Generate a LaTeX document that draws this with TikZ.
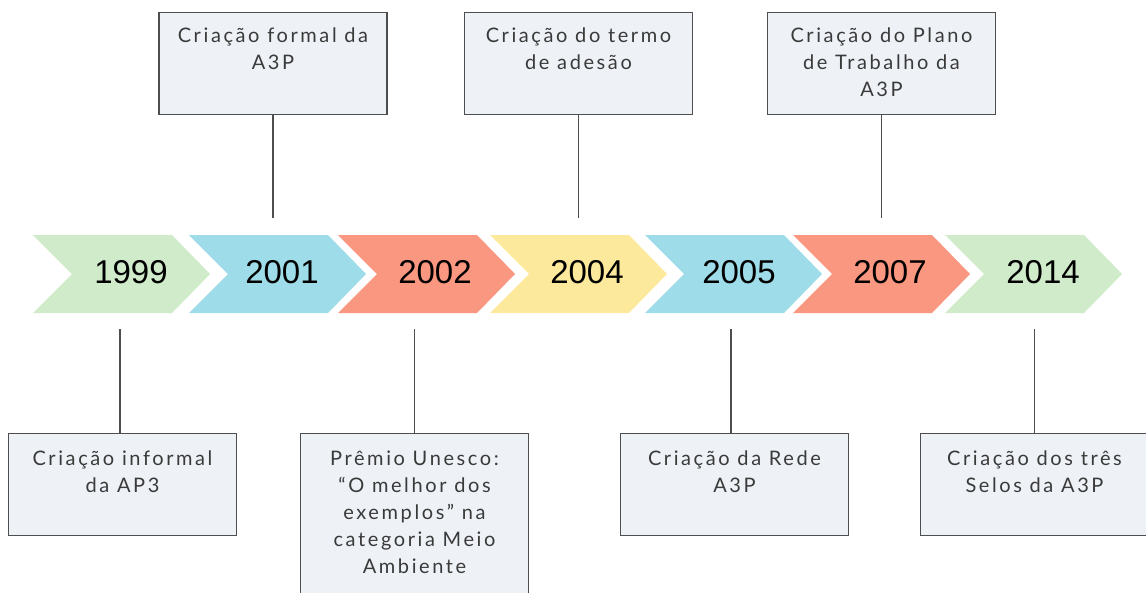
\documentclass[tikz,border=0pt]{standalone}
\usepackage{fontspec}
\setmainfont{Lato}[LetterSpace=13]
\newfontfamily\yearfont{Liberation Sans}
\definecolor{cgreen}{HTML}{D0EBC9}
\definecolor{cblue}{HTML}{9DDCE8}
\definecolor{csalmon}{HTML}{FA9780}
\definecolor{cyellow}{HTML}{FDE99C}
\definecolor{boxfill}{HTML}{EEF2F7}
\definecolor{boxline}{HTML}{4E4E4E}
\definecolor{txt}{HTML}{3A3A3A}
\newcommand{\boxtext}[1]{\parbox[t]{226pt}{\centering\fontsize{20}{27}\selectfont #1}}
\tikzset{
  infobox/.style={draw=boxline, fill=boxfill, line width=1.4pt, minimum width=228pt, minimum height=102pt, inner sep=0pt, anchor=north},
  infotext/.style={anchor=base, inner sep=0pt, text=txt},
  yeartext/.style={inner sep=0pt, font=\yearfont\fontsize{33}{33}\selectfont, text=black},
  stem/.style={draw=boxline, line width=1.4pt},
}
\newcommand{\chev}[2]{\fill[#2] (#1,235) -- ++(139,0) -- ++(38,39) -- ++(-38,39) -- ++(-139,0) -- ++(39,-39) -- cycle;}
\begin{document}
\begin{tikzpicture}[x=1pt,y=-1pt]
\useasboundingbox (0,0) rectangle (1146,592);
% chevrons
\chev{33}{cgreen}
\chev{189}{cblue}
\chev{338}{csalmon}
\chev{490}{cyellow}
\chev{645}{cblue}
\chev{793}{csalmon}
\chev{945}{cgreen}
\node[yeartext] (y1999) at (131,272) {1999};
\node[yeartext] (y2001) at (282,272) {2001};
\node[yeartext] (y2002) at (435,272) {2002};
\node[yeartext] (y2004) at (587,272) {2004};
\node[yeartext] (y2005) at (739,272) {2005};
\node[yeartext] (y2007) at (890,272) {2007};
\node[yeartext] (y2014) at (1043,272) {2014};
% top boxes
\node[infobox] (bt1) at (273,12) {};
\node[infobox] (bt2) at (578.5,12) {};
\node[infobox] (bt3) at (881.5,12) {};
\node[infotext] (tt1) at ([yshift=-30pt]bt1.north) {\boxtext{Criação formal da\\A3P}};
\node[infotext] (tt2) at ([yshift=-30pt]bt2.north) {\boxtext{Criação do termo\\de adesão}};
\node[infotext] (tt3) at ([yshift=-30pt]bt3.north) {\boxtext{Criação do Plano\\de Trabalho da\\A3P}};
\coordinate (ct1) at (273,218);
\coordinate (ct2) at (578.5,218);
\coordinate (ct3) at (881.5,218);
\draw[stem] (bt1.south) -- (ct1);
\draw[stem] (bt2.south) -- (ct2);
\draw[stem] (bt3.south) -- (ct3);
% bottom boxes
\node[infobox] (bb1) at (122.5,433) {};
\node[infobox, minimum height=180pt] (bb2) at (414.5,433) {};
\node[infobox] (bb3) at (734.5,433) {};
\node[infobox] (bb4) at (1034.5,433) {};
\node[infotext] (tb1) at ([yshift=-32pt]bb1.north) {\boxtext{Criação informal\\da AP3}};
\node[infotext] (tb2) at ([yshift=-32pt]bb2.north) {\boxtext{Prêmio Unesco:\\“O melhor dos\\exemplos” na\\categoria Meio\\Ambiente}};
\node[infotext] (tb3) at ([yshift=-32pt]bb3.north) {\boxtext{Criação da Rede\\A3P}};
\node[infotext] (tb4) at ([yshift=-32pt]bb4.north) {\boxtext{Criação dos três\\Selos da A3P}};
\coordinate (cb1) at (120,329);
\coordinate (cb2) at (414.5,329);
\coordinate (cb3) at (731,329);
\coordinate (cb4) at (1034.5,329);
\draw[stem] (bb1.north -| cb1) -- (cb1);
\draw[stem] (bb2.north) -- (cb2);
\draw[stem] (bb3.north -| cb3) -- (cb3);
\draw[stem] (bb4.north) -- (cb4);
\end{tikzpicture}
\end{document}
